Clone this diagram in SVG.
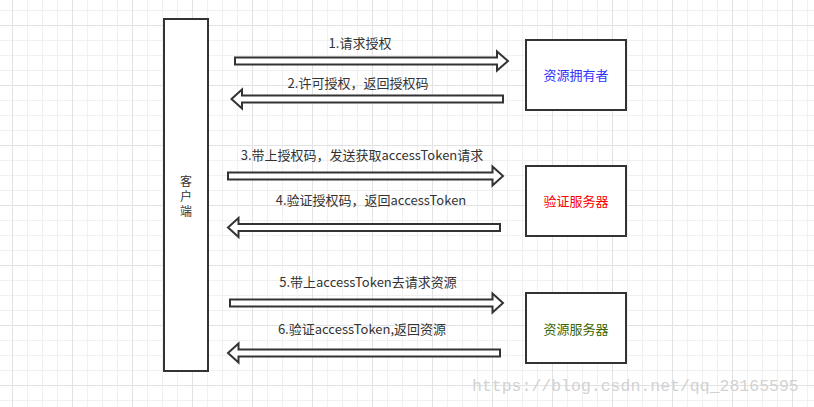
<svg xmlns="http://www.w3.org/2000/svg" width="814" height="407" viewBox="0 0 814 407">
<style>
.box{fill:#fff;stroke:#333;stroke-width:2}
.arr{fill:#fff;stroke:#333;stroke-width:2;stroke-linejoin:miter}
.lbl{font-family:"Noto Sans CJK SC","Noto Sans",sans-serif;font-size:13px;fill:#333;text-anchor:middle}
.vt{font-family:"Noto Sans CJK SC","Noto Sans",sans-serif;font-size:12px;fill:#333;text-anchor:middle;writing-mode:vertical-rl;letter-spacing:3px}
.nt{font-family:"Noto Sans CJK SC","Noto Sans",sans-serif;font-size:13px;text-anchor:middle}
.wm{font-family:"Liberation Mono","DejaVu Sans Mono",monospace;font-size:16.5px;fill:#d2d2d2}
</style>
<defs>
<pattern id="grid" patternUnits="userSpaceOnUse" x="12" y="25" width="60" height="60">
<path d="M15 0V60M30 0V60M45 0V60M0 15H60M0 30H60M0 45H60" stroke="#f0f0f0" stroke-width="1" fill="none" transform="translate(0.5 0.5)"/>
<path d="M0 0V60M0 0H60" stroke="#e2e2e2" stroke-width="1" fill="none" transform="translate(0.5 0.5)"/>
</pattern>
</defs>
<rect width="814" height="407" fill="#fff"/>
<rect width="814" height="407" fill="url(#grid)"/>
<g id="client">
<rect class="box" x="164" y="19" width="44" height="352"/>
<text class="vt" x="186" y="198">客户端</text>
</g>
<g id="owner">
<rect class="box" x="526" y="40" width="100" height="70"/>
<text class="nt" x="576" y="80" fill="#3333ff">资源拥有者</text>
</g>
<g id="auth">
<rect class="box" x="526" y="166" width="100" height="70"/>
<text class="nt" x="576" y="206" fill="#ff0000">验证服务器</text>
</g>
<g id="resource">
<rect class="box" x="526" y="293" width="100" height="70"/>
<text class="nt" x="576" y="334" fill="#3d6600">资源服务器</text>
</g>
<g id="connectors">
<polygon class="arr" points="235,57.5 497,57.5 497,51.5 508,61 497,70.5 497,64.5 235,64.5"/>
<text class="lbl" x="360" y="47.5">1.请求授权</text>
<polygon class="arr" points="503,95.5 242,95.5 242,89.5 231.5,99 242,108.5 242,102.5 503,102.5"/>
<text class="lbl" x="358" y="87.5">2.许可授权，返回授权码</text>
<polygon class="arr" points="228,172.5 492.5,172.5 492.5,166.5 503,176 492.5,185.5 492.5,179.5 228,179.5"/>
<text class="lbl" x="362" y="160">3.带上授权码，发送获取accessToken请求</text>
<polygon class="arr" points="500,224 238.5,224 238.5,218 228,227.5 238.5,237 238.5,231 500,231"/>
<text class="lbl" x="371" y="205">4.验证授权码，返回accessToken</text>
<polygon class="arr" points="230,299.5 492.5,299.5 492.5,293.5 503,303 492.5,312.5 492.5,306.5 230,306.5"/>
<text class="lbl" x="368" y="286.5">5.带上accessToken去请求资源</text>
<polygon class="arr" points="500,349.5 238.5,349.5 238.5,343.5 228,353 238.5,362.5 238.5,356.5 500,356.5"/>
<text class="lbl" x="362" y="333.5">6.验证accessToken,返回资源</text>
</g>
<text class="wm" x="472" y="391">https://blog.csdn.net/qq_28165595</text>
</svg>
